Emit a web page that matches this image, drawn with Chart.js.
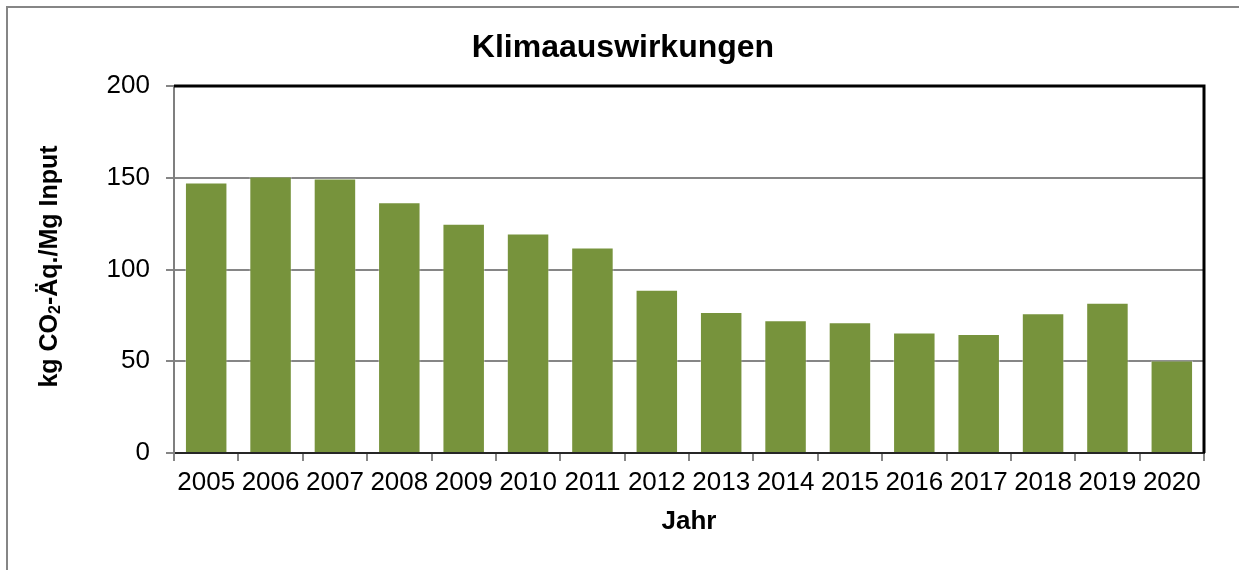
<!DOCTYPE html>
<html lang="de">
<head>
    <meta charset="UTF-8">
    <title>Klimaauswirkungen</title>
    <style>
        body {
            margin: 0;
            padding: 0;
            background: #fff;
            font-family: "Liberation Sans", Arial, sans-serif;
        }

        .chart-box {
            width: 1239px;
            height: 570px;
            position: relative;
        }
    </style>
    <script src="https://cdn.jsdelivr.net/npm/chart.js"></script>
</head>
<body>
    <div class="chart-box">
        <canvas id="klimaChart"></canvas>
    </div>
    <script>
        // Werte
        const jahre = ['2005', '2006', '2007', '2008', '2009', '2010', '2011', '2012',
                       '2013', '2014', '2015', '2016', '2017', '2018', '2019', '2020'];
        const co2Werte = [147.4, 150.7, 149.6, 136.7, 125.0, 119.6, 112.0, 89.0,
                          76.8, 72.3, 71.2, 65.6, 64.8, 76.2, 81.9, 50.4];
        const yTicks = [0, 50, 100, 150, 200];
        const titel = 'Klimaauswirkungen';

        const fontName = '"Liberation Sans", Arial, sans-serif';
        const gridGrey = '#868686';

        // Rahmen, Titel, schwarze Plotumrandung und y-Achsentitel mit tiefgestellter 2
        const extras = {
            id: 'extras',
            beforeDraw(chart) {
                const ctx = chart.ctx;
                ctx.save();
                ctx.strokeStyle = gridGrey;
                ctx.lineWidth = 2;
                ctx.beginPath();
                ctx.moveTo(7, chart.height);
                ctx.lineTo(7, 7);
                ctx.lineTo(chart.width, 7);
                ctx.stroke();

                ctx.fillStyle = '#000';
                ctx.font = 'bold 32px ' + fontName;
                ctx.textAlign = 'center';
                ctx.textBaseline = 'alphabetic';
                ctx.fillText(titel, (7 + chart.width) / 2, 57);
                ctx.restore();
            },
            afterDraw(chart) {
                const ctx = chart.ctx;
                const a = chart.chartArea;
                ctx.save();
                ctx.strokeStyle = '#000';
                ctx.lineWidth = 3;
                ctx.beginPath();
                ctx.moveTo(a.left, a.top);
                ctx.lineTo(a.right, a.top);
                ctx.lineTo(a.right, a.bottom);
                ctx.stroke();

                // y title
                const big = 'bold 25px ' + fontName;
                const small = 'bold 16px ' + fontName;
                const parts = [['kg CO', big, 0], ['2', small, 6], ['-Äq./Mg Input', big, 0]];
                let total = 0;
                parts.forEach(p => { ctx.font = p[1]; total += ctx.measureText(p[0]).width; });
                ctx.translate(50, (a.top + a.bottom) / 2 - 3);
                ctx.rotate(-Math.PI / 2);
                ctx.fillStyle = '#000';
                ctx.textBaseline = 'middle';
                ctx.textAlign = 'left';
                let x = -total / 2;
                parts.forEach(p => {
                    ctx.font = p[1];
                    ctx.fillText(p[0], x, p[2]);
                    x += ctx.measureText(p[0]).width;
                });
                ctx.restore();
            }
        };

        const ctx = document.getElementById('klimaChart').getContext('2d');
        const klimaChart = new Chart(ctx, {
            type: 'bar',
            data: {
                labels: jahre,
                datasets: [{
                    label: 'kg CO2-Äq./Mg Input',
                    data: co2Werte,
                    backgroundColor: '#77933C',
                    borderColor: 'rgba(255, 255, 255, 0.35)',
                    borderWidth: 1,
                    barPercentage: 0.66,
                    categoryPercentage: 1.0
                }]
            },
            options: {
                responsive: true,
                maintainAspectRatio: false,
                animation: false,
                layout: {
                    padding: { left: 7, right: 35, top: 86, bottom: 0 }
                },
                plugins: {
                    legend: { display: false },
                    tooltip: { enabled: false },
                    title: { display: false }
                },
                scales: {
                    x: {
                        afterFit: scale => { scale.height = 117; },
                        grid: {
                            display: true,
                            drawOnChartArea: false,
                            offset: true,
                            tickLength: 8,
                            tickColor: gridGrey,
                            lineWidth: 2
                        },
                        border: { color: '#262626', width: 2 },
                        ticks: {
                            color: '#000',
                            padding: 6,
                            maxRotation: 0,
                            autoSkip: false,
                            font: { family: fontName, size: 26 }
                        },
                        title: {
                            display: true,
                            text: 'Jahr',
                            color: '#000',
                            font: { family: fontName, size: 26, weight: 'bold' },
                            padding: { top: 0, bottom: 33 }
                        }
                    },
                    y: {
                        min: yTicks[0],
                        max: yTicks[yTicks.length - 1],
                        afterFit: scale => { scale.width = 167; },
                        afterBuildTicks: scale => {
                            scale.ticks = yTicks.map(v => ({ value: v }));
                        },
                        grid: {
                            color: gridGrey,
                            lineWidth: 2,
                            tickLength: 8,
                            tickColor: gridGrey
                        },
                        border: { color: '#7f7f7f', width: 2 },
                        ticks: {
                            color: '#000',
                            padding: 16,
                            font: { family: fontName, size: 26 }
                        }
                    }
                }
            },
            plugins: [extras]
        });
    </script>
</body>
</html>
